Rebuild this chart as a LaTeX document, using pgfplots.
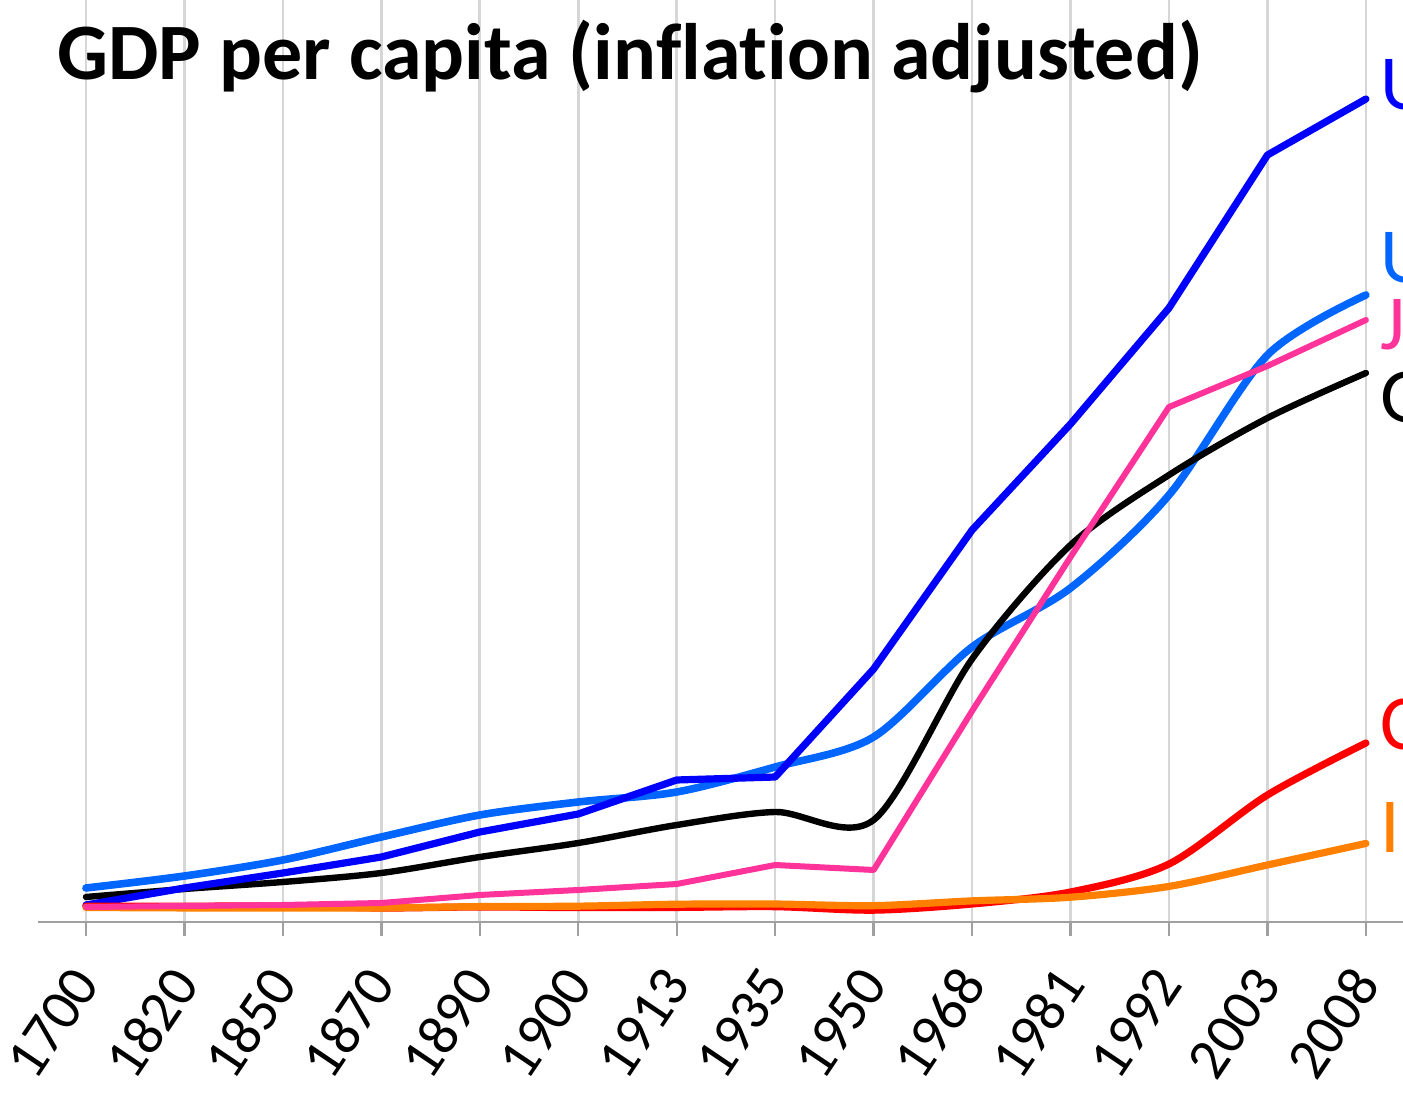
\documentclass[border=0pt]{standalone}
\usepackage{fontspec}
\setmainfont[Ligatures=NoCommon]{Carlito}
\usepackage{pgfplots}
\pgfplotsset{compat=1.18}
\definecolor{cUSA}{RGB}{0,0,255}
\definecolor{cUK}{RGB}{0,102,255}
\definecolor{cJP}{RGB}{255,51,153}
\definecolor{cCN}{RGB}{255,0,0}
\definecolor{cIN}{RGB}{255,128,0}
\definecolor{gridc}{RGB}{214,214,214}
\definecolor{axc}{RGB}{160,160,160}
\begin{document}
\begin{tikzpicture}
\useasboundingbox (0,0) rectangle (701.5pt,548pt);
\clip (0,0) rectangle (701.5pt,548pt);
\begin{axis}[
 at={(19pt,87pt)}, anchor=south west,
 scale only axis, width=693.5pt, height=475.2pt,
 xmin=-0.487, xmax=13.6, ymin=0, ymax=36000,
 axis x line=bottom, axis y line=none,
 x axis line style={draw=axc, line width=1.2pt, -},
 xtick={0,...,13},
 xticklabels={1700,1820,1850,1870,1890,1900,1913,1935,1950,1968,1981,1992,2003,2008},
 ytick={0,5000,...,35000}, yticklabels={},
 grid=major, major grid style={draw=gridc, line width=1.3pt},
 xtick align=outside, major tick length=7pt,
 xtick style={draw=axc, line width=1.2pt},
 ytick style={draw=none},
 xticklabel style={font=\fontsize{29}{34}\selectfont, yshift=-19pt, rotate=56, anchor=east, inner sep=0pt},
 every axis plot/.append style={line cap=round, line join=round},
]
% UK
\addplot[color=cUK, line width=3.8pt, smooth] coordinates {
(0,1288) (1,1742) (2,2349) (3,3220) (4,4053) (5,4545) (6,4924) (7,5871) (8,7008) (9,10417) (10,12652) (11,16174) (12,21477) (13,23750)};
% Germany
\addplot[color=black, line width=3.2pt, smooth] coordinates {
(0,947) (1,1250) (2,1515) (3,1856) (4,2462) (5,2992) (6,3674) (7,4167) (8,3864) (9,9962) (10,14280) (11,16932) (12,19091) (13,20795)};
% USA
\addplot[color=cUSA, line width=3.6pt] coordinates {
(0,644) (1,1288) (2,1856) (3,2462) (4,3409) (5,4091) (6,5379) (7,5492) (8,9583) (9,14848) (10,18864) (11,23258) (12,29053) (13,31174)};
% China
\addplot[color=cCN, line width=3.6pt, smooth] coordinates {
(0,600) (1,600) (2,600) (3,530) (4,570) (5,545) (6,552) (7,580) (8,448) (9,682) (10,1136) (11,2197) (12,4811) (13,6780)};
% India
\addplot[color=cIN, line width=3.6pt, smooth] coordinates {
(0,550) (1,533) (2,533) (3,533) (4,584) (5,599) (6,673) (7,680) (8,619) (9,800) (10,938) (11,1348) (12,2160) (13,2975)};
% Japan
\addplot[color=cJP, line width=3.0pt] coordinates {
(0,568) (1,606) (2,644) (3,720) (4,1023) (5,1212) (6,1439) (7,2159) (8,1970) (9,7992) (10,13826) (11,19508) (12,21061) (13,22803)};
\node[anchor=base west, inner sep=0pt, text=cUSA, font=\fontsize{39}{46}\selectfont] at (axis cs:13.14,30795) {USA};
\node[anchor=base west, inner sep=0pt, text=cUK, font=\fontsize{39}{46}\selectfont] at (axis cs:13.14,24242) {UK};
\node[anchor=base west, inner sep=0pt, text=cJP, font=\fontsize{39}{46}\selectfont] at (axis cs:13.14,21667) {Japan};
\node[anchor=base west, inner sep=0pt, text=black, font=\fontsize{39}{46}\selectfont] at (axis cs:13.14,18939) {Germany};
\node[anchor=base west, inner sep=0pt, text=cCN, font=\fontsize{39}{46}\selectfont] at (axis cs:13.14,6515) {China};
\node[anchor=base west, inner sep=0pt, text=cIN, font=\fontsize{39}{46}\selectfont] at (axis cs:13.14,2614) {India};
\end{axis}
\node[anchor=base west, inner sep=0pt, font=\bfseries\fontsize{40}{48}\selectfont] at (28.5pt,508pt) {GDP per capita (inflation adjusted)};
\end{tikzpicture}
\end{document}
